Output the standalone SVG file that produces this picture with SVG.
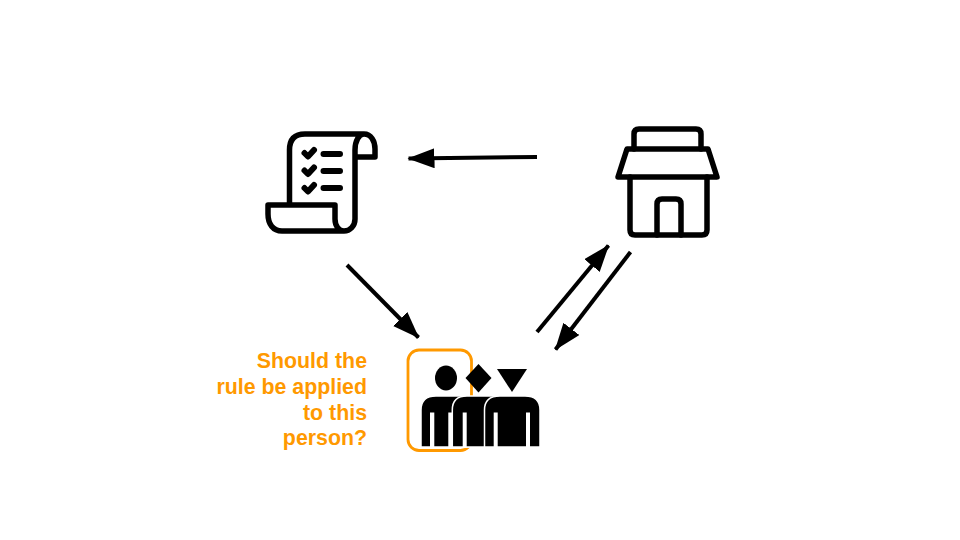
<svg xmlns="http://www.w3.org/2000/svg" width="960" height="540" viewBox="0 0 960 540">
<style>
.i{fill:none;stroke:#000;stroke-width:5.500;stroke-linecap:round;stroke-linejoin:round}
.k{fill:none;stroke:#000;stroke-width:6;stroke-linecap:round;stroke-linejoin:round}
.c{fill:none;stroke:#000;stroke-width:4}
.h{fill:#000}
.p{fill:#000;stroke:#fff;stroke-width:1.500}
.s{fill:#fff;stroke:none}
.t{font-family:"Liberation Sans",Arial,sans-serif;font-weight:700;font-size:21.330px;fill:#ff9900;text-anchor:end}
</style>
<defs><marker id="a" markerUnits="userSpaceOnUse" markerWidth="30" markerHeight="22" refX="26" refY="10" orient="auto"><path d="M0 0L27 10L0 20Z" fill="#000"/></marker></defs>
<rect width="960" height="540" fill="#fff"/>
<g id="connectors">
<path class="c" marker-end="url(#a)" d="M537 157L408.500 158.500"/>
<path class="c" marker-end="url(#a)" d="M347 265L418.500 337.500"/>
<path class="c" marker-end="url(#a)" d="M537 332L608.500 245.500"/>
<path class="c" marker-end="url(#a)" d="M630.500 252L555.500 349.500"/>
</g>
<g id="rulebook">
<path class="i" d="M289.500 205V150Q289.500 134 305 134H364C371 134 375 141 375 149V157H355M364 134C359 134 355 141 355 150V219C355 226 350 231 344 231H282C273 231 268 224 268 214V205H335V219C335 226 339 231 344 231"/>
<path class="k" d="M304.500 153L308 156.500L314 150M304.500 170.500L308 174L314 167.500M304.500 188L308 191.500L314 185"/>
<path class="k" d="M323.500 154H340M323.500 171H340M323.500 188H340"/>
</g>
<g id="store">
<path class="i" d="M634 149V134Q634 129 639 129H696Q701 129 701 134V149"/>
<path class="i" d="M627 149H708L717 177H618Z"/>
<path class="i" d="M630 177V230Q630 235 635 235H702Q707 235 707 230V177"/>
<path class="i" d="M657 235V204Q657 199 662 199H676Q681 199 681 204V235"/>
</g>
<g id="people">
<rect x="408" y="350" width="63.500" height="100.500" rx="11" fill="none" stroke="#ff9900" stroke-width="2.800"/>
<ellipse class="h" cx="446" cy="378" rx="11" ry="12.500"/>
<path class="h" d="M478.500 364L491.500 378L478.500 392.500L465.500 378Z"/>
<path class="h" d="M497 369H527L512 392Z"/>
<path class="p" d="M421 447V410Q421 396 436 396H460Q474 396 474 410V447Z"/>
<path class="s" d="M430 412.500H434.300V448H430ZM448.300 412.500H452.300V448H448.300Z"/>
<path class="p" d="M452.300 447V410Q452.300 396 467 396H492Q506 396 506 410V447Z"/>
<path class="s" d="M462.700 412.500H466.700V448H462.700Z"/>
<path class="p" d="M484.500 447V410Q484.500 396 500 396H525Q540 396 540 410V447Z"/>
<path class="s" d="M493.700 412.500H497.700V448H493.700ZM526 412.500H530V448H526Z"/>
</g>
<g id="label">
<text class="t" x="367" y="368">Should the</text>
<text class="t" x="367" y="394">rule be applied</text>
<text class="t" x="367" y="420">to this</text>
<text class="t" x="367" y="445">person?</text>
</g>
</svg>
